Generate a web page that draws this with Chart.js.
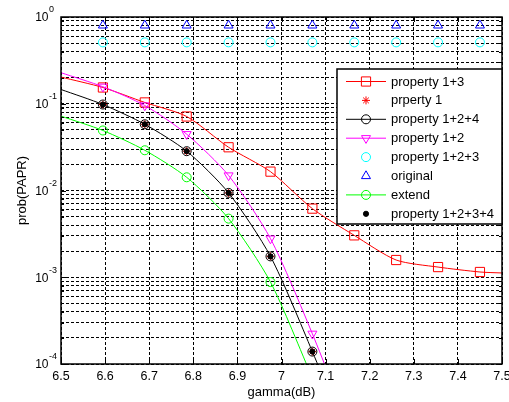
<!DOCTYPE html>
<html>
<head>
<meta charset="utf-8">
<script src="https://cdn.jsdelivr.net/npm/chart.js@4.4.1/dist/chart.umd.min.js"></script>
<style>
  html, body { margin: 0; padding: 0; background: #fff; overflow: hidden; }
  #wrap { width: 509px; height: 402px; }
</style>
</head>
<body>
<div id="wrap"><canvas id="c" width="509" height="402"></canvas></div>
<script>
// x positions (gamma, dB)
const gammaFull = [6.5, 6.595, 6.69, 6.785, 6.88, 6.975, 7.07, 7.165, 7.26, 7.355, 7.45, 7.5];
const gammaMarks = [6.595, 6.69, 6.785, 6.88, 6.975, 7.07, 7.165, 7.26, 7.355, 7.45];
const gammaSteep = [6.5, 6.595, 6.69, 6.785, 6.88, 6.975, 7.07, 7.165];
const gammaExt = [6.5, 6.595, 6.69, 6.785, 6.88, 6.975, 7.07];
const gammaDots = [6.595, 6.69, 6.785, 6.88, 6.975, 7.07];

// prob(PAPR) series
const prop13 = [0.203, 0.154, 0.1035, 0.0713, 0.0315, 0.0165, 0.00618, 0.00304, 0.00158, 0.00131, 0.00115, 0.00112];
const prop124 = [0.146, 0.098, 0.058, 0.0284, 0.00938, 0.00174, 0.000139, 0.000009];
const prop12 = [0.228, 0.157, 0.0955, 0.0446, 0.0149, 0.00279, 0.000223, 0.000013];
const prop123 = [0.51, 0.51, 0.51, 0.51, 0.51, 0.51, 0.51, 0.51, 0.51, 0.51];
const original = [0.8, 0.8, 0.8, 0.8, 0.8, 0.8, 0.8, 0.8, 0.8, 0.8];
const extend = [0.072, 0.0492, 0.0291, 0.0142, 0.00474, 0.00088, 0.000069];
const prop1 = [0.098, 0.058, 0.0284, 0.00938, 0.00174, 0.000139];
const prop1234 = [0.098, 0.058, 0.0284, 0.00938, 0.00174, 0.000139];

// axis ticks
const xTickVals = [6.5, 6.6, 6.7, 6.8, 6.9, 7, 7.1, 7.2, 7.3, 7.4, 7.5];
const xTickLabels = ['6.5', '6.6', '6.7', '6.8', '6.9', '7', '7.1', '7.2', '7.3', '7.4', '7.5'];
const yDecades = [0, -1, -2, -3, -4];
const yMinor = [1, 2, 3, 4, 5, 6, 7, 8, 9];

const FONT = "'Liberation Sans', Arial, sans-serif";

function pts(xs, ys) {
  return xs.map((x, i) => ({ x: x, y: ys[i] }));
}
// radius list: no marker on the first/last `skipA`/`skipB` points
function radii(n, r, skipA, skipB) {
  const out = [];
  for (let i = 0; i < n; i++) out.push(i < skipA || i >= n - skipB ? 0 : r);
  return out;
}

const yTicks = [];
yDecades.slice().reverse().forEach(e => {
  if (e === 0) { yTicks.push(1); return; }
  yMinor.forEach(m => yTicks.push(m * Math.pow(10, e)));
});

const datasets = [
  { label: 'property 1+3', data: pts(gammaFull, prop13), borderColor: '#ff0000', showLine: true,
    pointStyle: 'rect', pointRadius: radii(12, 6.5, 1, 1), rotation: 0 },
  { label: 'prperty 1', data: pts(gammaDots, prop1), borderColor: '#ff0000', showLine: false,
    pointStyle: 'star', pointRadius: 4 },
  { label: 'property 1+2+4', data: pts(gammaSteep, prop124), borderColor: '#000000', showLine: true,
    pointStyle: 'circle', pointRadius: radii(8, 4.5, 1, 1) },
  { label: 'property 1+2', data: pts(gammaSteep, prop12), borderColor: '#ff00ff', showLine: true,
    pointStyle: 'triangle', rotation: 180, pointRadius: radii(8, 5.2, 1, 1) },
  { label: 'property 1+2+3', data: pts(gammaMarks, prop123), borderColor: '#00ffff', showLine: false,
    pointStyle: 'circle', pointRadius: 4.5 },
  { label: 'original', data: pts(gammaMarks, original), borderColor: '#0000ff', showLine: false,
    pointStyle: 'triangle', rotation: 0, pointRadius: 5.2 },
  { label: 'extend', data: pts(gammaExt, extend), borderColor: '#00ff00', showLine: true,
    pointStyle: 'circle', pointRadius: radii(7, 4.5, 1, 1) },
  { label: 'property 1+2+3+4', data: pts(gammaDots, prop1234), borderColor: '#000000', showLine: false,
    pointStyle: 'circle', pointRadius: 2.6, fillDot: true }
];

datasets.forEach((d, i) => {
  d.order = -i;
  d.borderWidth = 1;
  d.pointBorderColor = d.borderColor;
  d.pointBackgroundColor = d.fillDot ? d.borderColor : 'rgba(0,0,0,0)';
  d.pointBorderWidth = 1;
  d.pointRotation = d.rotation || 0;
  d.tension = 0.25;
  d.fill = false;
});

const decor = {
  id: 'decor',
  afterDraw(chart) {
    const ctx = chart.ctx, a = chart.chartArea;
    const xs = chart.scales.x, ys = chart.scales.y;
    ctx.save();
    ctx.setLineDash([]);

    // inward tick marks
    ctx.strokeStyle = '#000';
    ctx.lineWidth = 1;
    ctx.beginPath();
    xTickVals.forEach(v => {
      const px = Math.round(xs.getPixelForValue(v)) + 0.5;
      ctx.moveTo(px, a.bottom); ctx.lineTo(px, a.bottom - 5);
      ctx.moveTo(px, a.top); ctx.lineTo(px, a.top + 5);
    });
    yTicks.forEach(v => {
      const py = Math.round(ys.getPixelForValue(v)) + 0.5;
      const major = Math.abs(Math.log10(v) - Math.round(Math.log10(v))) < 1e-9;
      const len = major ? 5 : 3;
      ctx.moveTo(a.left, py); ctx.lineTo(a.left + len, py);
      ctx.moveTo(a.right, py); ctx.lineTo(a.right - len, py);
    });
    ctx.stroke();

    // axes box
    ctx.lineWidth = 1.5;
    ctx.strokeRect(a.left, a.top, a.right - a.left, a.bottom - a.top);

    // y decade labels 10^e
    ctx.fillStyle = '#000';
    yDecades.forEach(e => {
      const py = ys.getPixelForValue(Math.pow(10, e));
      ctx.font = '12px ' + FONT;
      ctx.textAlign = 'right';
      ctx.textBaseline = 'middle';
      ctx.fillText('10', 48.5, py + 1);
      ctx.font = '9px ' + FONT;
      ctx.textAlign = 'left';
      ctx.fillText(e === 0 ? '0' : '-' + (-e), 49, py - 7);
    });

    // axis titles
    ctx.font = '13px ' + FONT;
    ctx.textAlign = 'center';
    ctx.textBaseline = 'middle';
    ctx.fillText('gamma(dB)', (a.left + a.right) / 2, 392);
    ctx.save();
    ctx.translate(22, (a.top + a.bottom) / 2);
    ctx.rotate(-Math.PI / 2);
    ctx.fillText('prob(PAPR)', 0, 0);
    ctx.restore();

    // legend box
    const lx = 337, ly = 69, lw = 165, lh = 155;
    ctx.fillStyle = '#fff';
    ctx.fillRect(lx, ly, lw, lh);
    ctx.lineWidth = 1.5;
    ctx.strokeStyle = '#000';
    ctx.strokeRect(lx, ly, lw, lh);
    datasets.forEach((d, i) => {
      const ry = 81.5 + i * 18.9;
      if (d.showLine) {
        ctx.strokeStyle = d.borderColor;
        ctx.lineWidth = 1;
        ctx.beginPath();
        ctx.moveTo(346, ry); ctx.lineTo(386, ry);
        ctx.stroke();
      }
      const r = Array.isArray(d.pointRadius) ? Math.max.apply(null, d.pointRadius) : d.pointRadius;
      ctx.strokeStyle = d.borderColor;
      ctx.fillStyle = d.pointBackgroundColor;
      ctx.lineWidth = 1;
      Chart.helpers.drawPoint(ctx, { pointStyle: d.pointStyle, rotation: d.pointRotation, radius: r, borderWidth: 1 }, 366, ry);
      ctx.fillStyle = '#000';
      ctx.font = '13px ' + FONT;
      ctx.textAlign = 'left';
      ctx.textBaseline = 'middle';
      ctx.fillText(d.label, 391, ry + 0.5);
    });
    ctx.restore();
  }
};

new Chart(document.getElementById('c'), {
  type: 'line',
  data: { datasets: datasets },
  options: {
    responsive: false,
    animation: false,
    layout: { padding: { top: 17, right: 7, left: 0, bottom: 0 } },
    plugins: { legend: { display: false }, tooltip: { enabled: false } },
    scales: {
      x: {
        type: 'linear', min: 6.5, max: 7.5,
        afterBuildTicks: s => { s.ticks = xTickVals.map(v => ({ value: v })); },
        afterFit: s => { s.height = 38; s.paddingLeft = 0; s.paddingRight = 0; },
        ticks: {
          color: '#000', font: { family: FONT, size: 12.5 }, padding: 5,
          maxRotation: 0, autoSkip: false,
          callback: (v, i) => xTickLabels[i]
        },
        grid: { color: '#000', lineWidth: 1, drawTicks: false },
        border: { display: false, dash: [3, 2] }
      },
      y: {
        type: 'logarithmic', min: 1e-4, max: 1,
        afterBuildTicks: s => { s.ticks = yTicks.map(v => ({ value: v })); },
        afterFit: s => { s.width = 61; s.paddingTop = 0; s.paddingBottom = 0; },
        ticks: { display: false },
        grid: { color: '#000', lineWidth: 1, drawTicks: false },
        border: { display: false, dash: [3, 2] }
      }
    }
  },
  plugins: [decor]
});
</script>
</body>
</html>
